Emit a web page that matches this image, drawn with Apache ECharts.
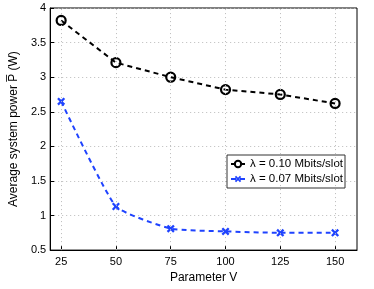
<!DOCTYPE html>
<html><head><meta charset="utf-8">
<script src="https://cdn.jsdelivr.net/npm/echarts@6/dist/echarts.min.js"></script>
<style>html,body{margin:0;padding:0;background:#fff}#c{width:374px;height:289px}</style>
</head><body><div id="c"></div>
<script>
const xValues = [25, 50, 75, 100, 125, 150];
const xTicks = [25, 50, 75, 100, 125, 150];
const yTicks = [0.5, 1, 1.5, 2, 2.5, 3, 3.5, 4];
const seriesA = [3.82, 3.21, 3.00, 2.82, 2.75, 2.62];
const seriesB = [2.65, 1.13, 0.81, 0.77, 0.75, 0.75];
const nameA = 'λ = 0.10 Mbits/slot';
const nameB = 'λ = 0.07 Mbits/slot';

const font = 'Liberation Sans, Arial, sans-serif';
const xCross = 'path://M0,2L2,0L5,3L8,0L10,2L7,5L10,8L8,10L5,7L2,10L0,8L3,5Z';

const chart = echarts.init(document.getElementById('c'), null, {renderer: 'canvas'});
chart.setOption({
  animation: false,
  backgroundColor: '#fff',
  grid: {left: 37, right: 17, top: 8, bottom: 32, show: true, borderColor: '#000', borderWidth: 1},
  legend: {
    right: 29, top: 155, orient: 'vertical',
    backgroundColor: '#fff', borderColor: '#333', borderWidth: 1,
    padding: [3, 2, 3, 3], itemGap: 3, itemWidth: 14, itemHeight: 8,
    textStyle: {fontFamily: font, fontSize: 11.5, color: '#000'},
    data: [nameA, nameB]
  },
  xAxis: {
    type: 'value', min: 20, max: 160,
    name: 'Parameter V', nameLocation: 'middle', nameGap: 19,
    nameTextStyle: {fontFamily: font, fontSize: 12, color: '#000'},
    axisLine: {show: true, lineStyle: {color: '#000'}},
    axisTick: {show: true, inside: true, length: 4, customValues: xTicks, lineStyle: {color: '#000'}},
    axisLabel: {customValues: xTicks, fontFamily: font, fontSize: 11, color: '#000', margin: 6},
    splitLine: {show: false}
  },
  yAxis: {
    type: 'value', min: 0.5, max: 4, interval: 0.5,
    name: 'Average system power P\u0305 (W)', nameLocation: 'middle', nameGap: 24,
    nameTextStyle: {fontFamily: font, fontSize: 12, color: '#000'},
    axisLine: {show: true, lineStyle: {color: '#000'}},
    axisTick: {show: true, inside: true, length: 4, lineStyle: {color: '#000'}},
    axisLabel: {fontFamily: font, fontSize: 11, color: '#000', margin: 4,
      formatter: v => String(v)},
    splitLine: {show: true, lineStyle: {color: '#bbb', type: [1, 3], width: 1}}
  },
  series: [
    {
      name: nameA, type: 'line', smooth: false,
      data: xValues.map((x, i) => [x, seriesA[i]]),
      symbol: 'circle', symbolSize: 9, showAllSymbol: true,
      lineStyle: {color: '#000', width: 2, type: [5, 4]},
      itemStyle: {color: 'rgba(255,255,255,0)', borderColor: '#000', borderWidth: 2.2},
      color: '#000',
      markLine: {
        silent: true, symbol: 'none', label: {show: false},
        lineStyle: {color: '#bbb', type: [1, 3], width: 1},
        data: xTicks.map(v => ({xAxis: v}))
      },
      z: 3
    },
    {
      name: nameB, type: 'line', smooth: 0.15,
      data: xValues.map((x, i) => [x, seriesB[i]]),
      symbol: xCross, symbolSize: 8, showAllSymbol: true,
      lineStyle: {color: '#1f43ff', width: 2, type: [5, 4]},
      itemStyle: {color: '#1f43ff', borderWidth: 0},
      color: '#1f43ff',
      z: 3
    }
  ]
});
</script></body></html>
